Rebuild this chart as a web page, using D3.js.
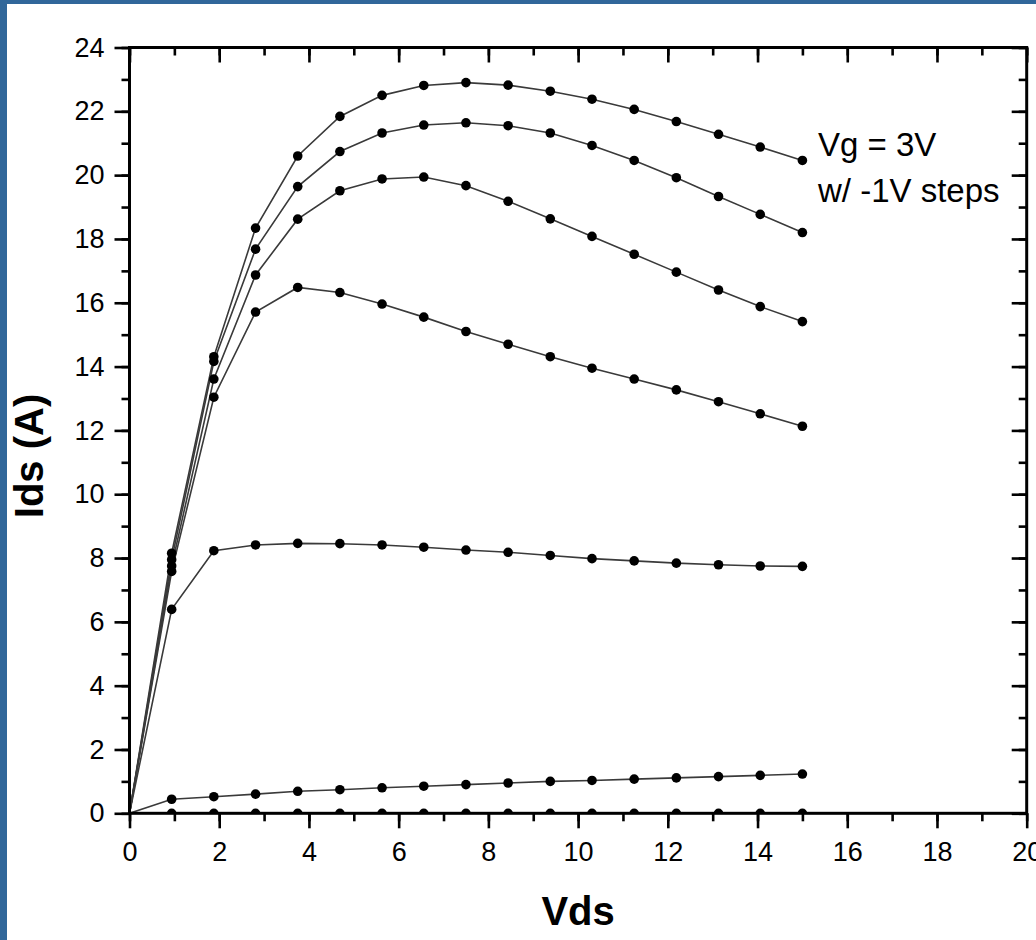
<!DOCTYPE html>
<meta charset="utf-8">
<head>
  <style>
    body { margin: 0; background: #31679a; }
    svg { display: block; }
  </style>
  <script src="https://cdn.jsdelivr.net/npm/d3@7"></script>
</head>
<body>
<script>
  // drain voltage steps (V)
  var vds = [0, 0.94, 1.88, 2.81, 3.75, 4.69, 5.63, 6.56, 7.5, 8.44, 9.38, 10.31, 11.25, 12.19, 13.13, 14.06, 15];

  // Ids (A) for each gate voltage, Vg = 3V down in -1V steps
  var vg3  = [0, 8.15, 14.31, 18.34, 20.60, 21.84, 22.50, 22.81, 22.90, 22.82, 22.63, 22.38, 22.06, 21.68, 21.28, 20.88, 20.46];
  var vg2  = [0, 7.95, 14.16, 17.68, 19.64, 20.74, 21.32, 21.57, 21.64, 21.55, 21.32, 20.93, 20.46, 19.92, 19.33, 18.77, 18.20];
  var vg1  = [0, 7.75, 13.61, 16.87, 18.62, 19.51, 19.88, 19.94, 19.67, 19.18, 18.63, 18.08, 17.52, 16.96, 16.40, 15.88, 15.41];
  var vg0  = [0, 7.58, 13.04, 15.71, 16.48, 16.32, 15.96, 15.55, 15.10, 14.70, 14.31, 13.95, 13.61, 13.27, 12.90, 12.52, 12.13];
  var vgm1 = [0, 6.39, 8.23, 8.41, 8.46, 8.45, 8.41, 8.34, 8.25, 8.18, 8.08, 7.98, 7.91, 7.84, 7.79, 7.75, 7.74];
  var vgm2 = [0, 0.44, 0.52, 0.60, 0.69, 0.74, 0.80, 0.85, 0.90, 0.95, 1.00, 1.03, 1.07, 1.11, 1.15, 1.19, 1.23];
  var vgm3 = [0, 0, 0, 0, 0, 0, 0, 0, 0, 0, 0, 0, 0, 0, 0, 0, 0];

  var curves = [vg3, vg2, vg1, vg0, vgm1, vgm2, vgm3];

  var xTicks = [0, 2, 4, 6, 8, 10, 12, 14, 16, 18, 20];
  var yTicks = [0, 2, 4, 6, 8, 10, 12, 14, 16, 18, 20, 22, 24];
  var legendLines = ["Vg = 3V", "w/ -1V steps"];

  var W = 1036, H = 940;
  var pL = 129.5, pR = 1026.7, pT = 47.5, pB = 813.3;
  var font = "Liberation Sans, Arial, sans-serif";

  const svg = d3.create("svg:svg")
    .attr("width", W)
    .attr("height", H);
  d3.select("body").append(() => svg.node());

  // white panel inside the blue frame
  svg.append("rect")
    .attr("x", 7).attr("y", 4)
    .attr("width", W - 7).attr("height", H - 4)
    .attr("fill", "white");

  const x = d3.scaleLinear().domain([0, 20]).range([pL, pR]);
  const y = d3.scaleLinear().domain([0, 24]).range([pB, pT]);

  svg.append("clipPath").attr("id", "plot")
    .append("rect")
      .attr("x", pL).attr("y", pT)
      .attr("width", pR - pL).attr("height", pB - pT);

  const line = d3.line()
    .x(function(d) { return x(d[0]); })
    .y(function(d) { return y(d[1]); });

  const data = curves.map(function(c) {
    return c.map(function(v, i) { return [vds[i], v]; });
  });

  const plot = svg.append("g").attr("clip-path", "url(#plot)");

  plot.selectAll(".curve").data(data).enter().append("path")
    .attr("class", "curve")
    .attr("d", line)
    .attr("fill", "none")
    .attr("stroke", "#3a3a3a")
    .attr("stroke-width", 1.6);

  plot.selectAll(".dots").data(data).enter().append("g")
    .attr("class", "dots")
    .selectAll("circle")
    .data(function(d) { return d.filter(function(p) { return p[0] > 0; }); })
    .enter().append("circle")
      .attr("cx", function(d) { return x(d[0]); })
      .attr("cy", function(d) { return y(d[1]); })
      .attr("r", 4.8)
      .attr("fill", "black");

  // axes: major + minor ticks on all four sides
  var minorX = d3.range(0, 21, 1), minorY = d3.range(0, 25, 1);

  function styleAxis(g) {
    g.select(".domain").remove();
    g.selectAll(".tick line").attr("stroke", "black").attr("stroke-width", 2.6);
    g.selectAll("text")
      .attr("fill", "black")
      .style("font-family", font)
      .style("font-size", "27px");
  }

  svg.append("g").attr("transform", "translate(0," + pB + ")")
    .call(d3.axisBottom(x).tickValues(minorX).tickSize(8).tickFormat(""))
    .call(styleAxis);
  svg.append("g").attr("transform", "translate(0," + pB + ")")
    .call(d3.axisBottom(x).tickValues(xTicks).tickSize(15).tickPadding(14).tickFormat(d3.format("d")))
    .call(styleAxis);
  svg.append("g").attr("transform", "translate(0," + pT + ")")
    .call(d3.axisBottom(x).tickValues(minorX).tickSize(8).tickFormat(""))
    .call(styleAxis);
  svg.append("g").attr("transform", "translate(0," + pT + ")")
    .call(d3.axisBottom(x).tickValues(xTicks).tickSize(15).tickFormat(""))
    .call(styleAxis);

  svg.append("g").attr("transform", "translate(" + pL + ",0)")
    .call(d3.axisLeft(y).tickValues(minorY).tickSize(8).tickFormat(""))
    .call(styleAxis);
  svg.append("g").attr("transform", "translate(" + pL + ",0)")
    .call(d3.axisLeft(y).tickValues(yTicks).tickSize(15).tickPadding(10).tickFormat(d3.format("d")))
    .call(styleAxis);
  svg.append("g").attr("transform", "translate(" + pR + ",0)")
    .call(d3.axisLeft(y).tickValues(minorY).tickSize(8).tickFormat(""))
    .call(styleAxis);
  svg.append("g").attr("transform", "translate(" + pR + ",0)")
    .call(d3.axisLeft(y).tickValues(yTicks).tickSize(15).tickFormat(""))
    .call(styleAxis);

  // frame
  svg.append("rect")
    .attr("x", pL).attr("y", pT)
    .attr("width", pR - pL).attr("height", pB - pT)
    .attr("fill", "none")
    .attr("stroke", "black")
    .attr("stroke-width", 3);

  // axis titles
  svg.append("text")
    .attr("x", (pL + pR) / 2)
    .attr("y", 925)
    .attr("text-anchor", "middle")
    .style("font-family", font)
    .style("font-weight", "bold")
    .style("font-size", "40px")
    .text("Vds");

  svg.append("text")
    .attr("transform", "translate(43,456) rotate(-90)")
    .attr("text-anchor", "middle")
    .style("font-family", font)
    .style("font-weight", "bold")
    .style("font-size", "40px")
    .text("Ids (A)");

  // annotation
  svg.append("g").selectAll("text").data(legendLines).enter().append("text")
    .attr("x", 818)
    .attr("y", function(d, i) { return 156 + i * 46; })
    .style("font-family", font)
    .style("font-size", "33px")
    .text(function(d) { return d; });
</script>
</body>
</html>
